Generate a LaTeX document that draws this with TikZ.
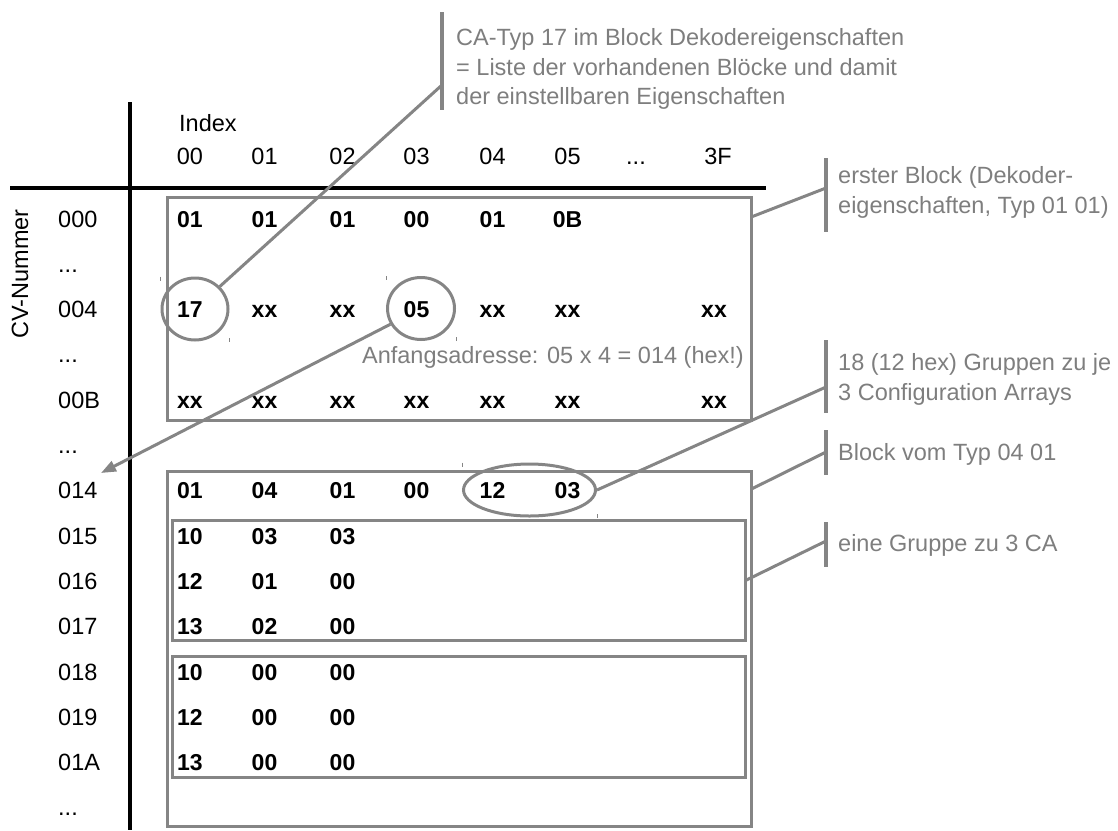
\documentclass[tikz,border=0pt]{standalone}
\usepackage{fontspec}
\setmainfont{Liberation Sans}
\newfontfamily\datafont{Liberation Sans}
\usetikzlibrary{shapes.geometric,arrows.meta,calc}
\definecolor{lgray}{HTML}{858585}
\definecolor{tgray}{HTML}{7E7E7E}
\begin{document}
\begin{tikzpicture}[x=1pt,y=-1pt,
  txt/.style={font=\fontsize{23.5}{28}\selectfont, inner sep=0pt, anchor=base},
  lbl/.style={txt, anchor=base west},
  dat/.style={font=\datafont\bfseries\fontsize{23}{28}\selectfont, inner sep=0pt, anchor=base},
  note/.style={txt, anchor=base west, text=tgray},
  gbox/.style={draw=lgray, line width=3pt, rectangle, inner sep=0pt},
  conn/.style={draw=lgray, line width=3pt},
  bar/.style={draw=lgray, line width=3.5pt},
  axis/.style={draw=black, line width=3.5pt},
  ring/.style={draw=lgray, line width=3pt, ellipse, inner sep=0pt},
  tick/.style={draw=lgray, line width=0.8pt}
]
\useasboundingbox (0,0) rectangle (1118,830);

% axes
\draw[axis] (130,102) -- (130,830);
\draw[axis] (10,188) -- (766,188);

% column and row positions
\foreach \x [count=\c] in {190,264.5,342.5,416.5,492.5,567.5,636,714}
  \coordinate (col\c) at (\x,0);
\foreach \r in {0,...,13}
  \coordinate (row\r) at (0,{227+45.3*\r});

% header
\node[lbl] (index) at (179,131) {Index};
\foreach \v [count=\c] in {00,01,02,03,04,05}
  \node[txt] (h\c) at ($(col\c |- 0,164)$) {\v};
\node[txt] (h7) at ($(col7 |- 0,164)$) {...};
\node[txt] (h8) at (718,164) {3F};

% side label
\node[font=\fontsize{23.5}{28}\selectfont, inner sep=0pt, rotate=90] (cvn) at (20,274) {CV-Nummer};

% row labels
\node[lbl] (l0) at ($(58,0)+(row0)$) {000};
\node[lbl] (l1) at ($(58,0)+(row1)$) {...};
\node[lbl] (l2) at ($(58,0)+(row2)$) {004};
\node[lbl] (l3) at ($(58,0)+(row3)$) {...};
\node[lbl] (l4) at ($(58,0)+(row4)$) {00B};
\node[lbl] (l5) at ($(58,0)+(row5)$) {...};
\node[lbl] (l6) at ($(58,0)+(row6)$) {014};
\node[lbl] (l7) at ($(58,0)+(row7)$) {015};
\node[lbl] (l8) at ($(58,0)+(row8)$) {016};
\node[lbl] (l9) at ($(58,0)+(row9)$) {017};
\node[lbl] (l10) at ($(58,0)+(row10)$) {018};
\node[lbl] (l11) at ($(58,0)+(row11)$) {019};
\node[lbl] (l12) at ($(58,0)+(row12)$) {01A};
\node[lbl] (l13) at ($(58,0)+(row13)$) {...};

% boxes
\node[gbox, minimum width=584pt, minimum height=223pt] (box1) at (459,308.5) {};
\node[gbox, minimum width=584pt, minimum height=355pt] (box2) at (459,648.5) {};
\node[gbox, minimum width=573pt, minimum height=120pt] (grpA) at (458.5,580) {};
\node[gbox, minimum width=573pt, minimum height=121pt] (grpB) at (458.5,716.5) {};

% data
\foreach \v [count=\c] in {01,01,01,00,01,0B}
  \node[dat] (d0-\c) at (col\c |- row0) {\v};
\foreach \v [count=\c] in {17,xx,xx,05,xx,xx}
  \node[dat] (d2-\c) at (col\c |- row2) {\v};
\node[dat] (d2-8) at (col8 |- row2) {xx};
\foreach \v [count=\c] in {xx,xx,xx,xx,xx,xx}
  \node[dat] (d4-\c) at (col\c |- row4) {\v};
\node[dat] (d4-8) at (col8 |- row4) {xx};
\foreach \v [count=\c] in {01,04,01,00,12,03}
  \node[dat] (d6-\c) at (col\c |- row6) {\v};
\foreach \v [count=\c] in {10,03,03}
  \node[dat] (d7-\c) at (col\c |- row7) {\v};
\foreach \v [count=\c] in {12,01,00}
  \node[dat] (d8-\c) at (col\c |- row8) {\v};
\foreach \v [count=\c] in {13,02,00}
  \node[dat] (d9-\c) at (col\c |- row9) {\v};
\foreach \v [count=\c] in {10,00,00}
  \node[dat] (d10-\c) at (col\c |- row10) {\v};
\foreach \v [count=\c] in {12,00,00}
  \node[dat] (d11-\c) at (col\c |- row11) {\v};
\foreach \v [count=\c] in {13,00,00}
  \node[dat] (d12-\c) at (col\c |- row12) {\v};

% rings
\node[ring, minimum width=66pt, minimum height=62pt] (c17) at (195,309) {};
\node[ring, minimum width=67pt, minimum height=62pt] (c05) at (421,308.5) {};
\node[ring, minimum width=132pt, minimum height=52pt] (e1203) at (529.5,490) {};

% selection ticks
\foreach \n in {c17,c05,e1203} {
  \draw[tick] (\n.west |- \n.north) -- ++(0,4);
  \draw[tick] (\n.east |- \n.south) -- ++(0,-4);
}

% address note and arrow
\node[note, anchor=base east] (addr) at (744,363) {Anfangsadresse: 05 x 4 = 014 (hex!)};
\coordinate (arrtip) at (101,473);
\draw[conn, -{Triangle[length=15pt,width=11pt]}] (c05) -- (arrtip);

% callout 1
\draw[bar] (442,12) -- (442,110);
\coordinate (b1) at (442,85);
\draw[conn] (c17) -- (b1);
\node[note] (n1a) at (456,45) {CA-Typ 17 im Block Dekodereigenschaften};
\node[note] (n1b) at (456,75) {= Liste der vorhandenen Blöcke und damit};
\node[note] (n1c) at (456,104) {der einstellbaren Eigenschaften};

% callout 2
\draw[bar] (826,158) -- (826,232);
\coordinate (b2) at (826,188);
\coordinate (s2) at ($(box1.north east)+(0,21)$);
\draw[conn] (s2) -- (b2);
\node[note] (n2a) at (838,183) {erster Block (Dekoder-};
\node[note] (n2b) at (838,213) {eigenschaften, Typ 01 01)};

% callout 3
\draw[bar] (826,340) -- (826,413);
\coordinate (b3) at (826,387);
\draw[conn] (e1203.east) -- (b3);
\node[note] (n3a) at (838,370) {18 (12 hex) Gruppen zu je};
\node[note] (n3b) at (838,400) {3 Configuration Arrays};

% callout 4
\draw[bar] (826,430) -- (826,475);
\coordinate (b4) at (826,452);
\coordinate (s4) at ($(box2.north east)+(0,19)$);
\draw[conn] (s4) -- (b4);
\node[note] (n4) at (838,460) {Block vom Typ 04 01};

% callout 5
\draw[bar] (826,522) -- (826,567);
\coordinate (b5) at (826,541);
\draw[conn] (grpA.east) -- (b5);
\node[note] (n5) at (838,551) {eine Gruppe zu 3 CA};
\end{tikzpicture}
\end{document}
